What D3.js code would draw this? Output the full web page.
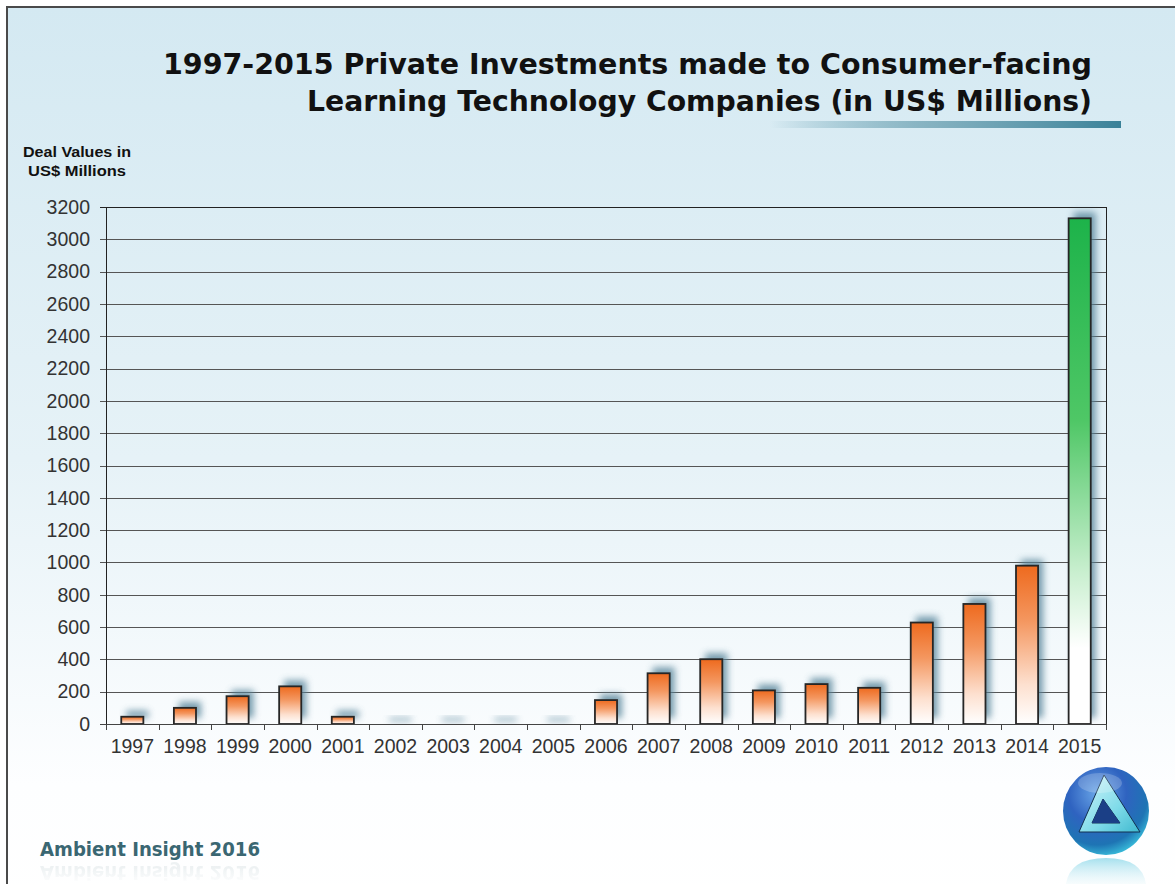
<!DOCTYPE html>
<html>
<head>
<meta charset="utf-8">
<script src="https://cdn.jsdelivr.net/npm/d3@7"></script>
<style>
  html, body { margin: 0; padding: 0; background: #fff; }
  svg { display: block; }
</style>
</head>
<body>
<svg id="chart" width="1175" height="884"></svg>
<script>
// ---- data ----
const years = ["1997","1998","1999","2000","2001","2002","2003","2004","2005","2006",
               "2007","2008","2009","2010","2011","2012","2013","2014","2015"];
const dealValues = [45, 100, 172, 233, 45, 0, 0, 0, 0, 148,
                    314, 401, 208, 247, 224, 628, 743, 980, 3130];
const yTicks = [0,200,400,600,800,1000,1200,1400,1600,1800,2000,2200,2400,2600,2800,3000,3200];
const titleLines = ["1997-2015 Private Investments made to Consumer-facing",
                    "Learning Technology Companies (in US$ Millions)"];
const yAxisTitle = ["Deal Values in", "US$ Millions"];
const footerText = "Ambient Insight  2016";

const svg = d3.select("#chart");
const W = 1175, H = 884;
const defs = svg.append("defs");

// background gradient
const bg = defs.append("linearGradient").attr("id","bgGrad").attr("x1",0).attr("y1",0).attr("x2",0).attr("y2",1);
bg.append("stop").attr("offset","0%").attr("stop-color","#d4e9f2");
bg.append("stop").attr("offset","50%").attr("stop-color","#e6f2f7");
bg.append("stop").attr("offset","86%").attr("stop-color","#fdfeff");
bg.append("stop").attr("offset","100%").attr("stop-color","#ffffff");

svg.append("rect").attr("x",0).attr("y",0).attr("width",W).attr("height",H).attr("fill","#fff");
svg.append("rect").attr("x",7).attr("y",7).attr("width",W+20).attr("height",H+20)
  .attr("fill","url(#bgGrad)").attr("stroke","#4a4a4a").attr("stroke-width",2);

// title
const titleG = svg.append("g").attr("font-family","'DejaVu Sans', Verdana, sans-serif")
  .attr("font-weight","bold").attr("font-size",29).attr("fill","#111");
titleG.append("text").attr("x",1092).attr("y",74).attr("text-anchor","end")
  .attr("textLength",929).attr("lengthAdjust","spacingAndGlyphs").text(titleLines[0]);
titleG.append("text").attr("x",1092).attr("y",111).attr("text-anchor","end")
  .attr("textLength",785).attr("lengthAdjust","spacingAndGlyphs").text(titleLines[1]);

// title underline gradient bar
const tb = defs.append("linearGradient").attr("id","titleBar").attr("x1",0).attr("x2",1).attr("y1",0).attr("y2",0);
tb.append("stop").attr("offset","0%").attr("stop-color","#3b849a").attr("stop-opacity",0);
tb.append("stop").attr("offset","45%").attr("stop-color","#6a9fb0").attr("stop-opacity",0.75);
tb.append("stop").attr("offset","100%").attr("stop-color","#3a8198").attr("stop-opacity",1);
svg.append("rect").attr("x",770).attr("y",121).attr("width",351).attr("height",7).attr("fill","url(#titleBar)");

// y axis title
const yt = svg.append("g").attr("font-family","'Liberation Sans Narrow', 'Liberation Sans', Arial, sans-serif")
  .attr("font-weight","bold").attr("font-size",14).attr("fill","#111").attr("text-anchor","middle");
yt.append("text").attr("x",77).attr("y",157).attr("textLength",108).attr("lengthAdjust","spacingAndGlyphs").text(yAxisTitle[0]);
yt.append("text").attr("x",77).attr("y",176).attr("textLength",98).attr("lengthAdjust","spacingAndGlyphs").text(yAxisTitle[1]);

// plot area
const m = {left:106, top:207, right:1106, bottom:724};
const pw = m.right - m.left, ph = m.bottom - m.top;
const g = svg.append("g").attr("transform",`translate(${m.left},${m.top})`);

const y = d3.scaleLinear().domain([0,3200]).range([ph,0]);
const xOuter = d3.scaleBand().domain(years).range([0,pw]).padding(0);
const x = d3.scaleBand().domain(years).range([0,pw]).paddingInner(0.58).paddingOuter(0.29);

// gridlines
g.append("g").selectAll("line").data(yTicks).join("line")
  .attr("x1",-6).attr("x2",pw).attr("y1",d=>Math.round(y(d))+0.5).attr("y2",d=>Math.round(y(d))+0.5)
  .attr("stroke",d=>d===3200?"#222":"#555").attr("stroke-width",1);

// right frame line
g.append("line").attr("x1",pw+0.5).attr("x2",pw+0.5).attr("y1",0).attr("y2",ph).attr("stroke","#222");

// y axis labels
const yAxis = d3.axisLeft(y).tickValues(yTicks).tickSize(6).tickPadding(10).tickFormat(d3.format("d"));
const yA = g.append("g").call(yAxis);
yA.select(".domain").remove();
yA.selectAll(".tick line").remove();
yA.selectAll("text").attr("font-family","'Liberation Sans', Arial, sans-serif").attr("font-size",19.5).attr("fill","#333");

// shadows
const shadowF = defs.append("filter").attr("id","shadow").attr("x","-100%").attr("y","-100%").attr("width","300%").attr("height","300%");
shadowF.append("feGaussianBlur").attr("stdDeviation",3.6);

g.append("g").selectAll("rect").data(years).join("rect")
  .attr("x",(d,i)=>x(d)+5).attr("y",(d,i)=>y(dealValues[i])-6)
  .attr("width",x.bandwidth()).attr("height",(d,i)=>Math.max(3,ph-y(dealValues[i])))
  .attr("fill","#56849a").attr("opacity",0.8).attr("filter","url(#shadow)");

// bar gradients
const og = defs.append("linearGradient").attr("id","orangeGrad").attr("x1",0).attr("x2",0).attr("y1",0).attr("y2",1);
og.append("stop").attr("offset","0%").attr("stop-color","#ee6a1e");
og.append("stop").attr("offset","35%").attr("stop-color","#f49760");
og.append("stop").attr("offset","75%").attr("stop-color","#fde0cf");
og.append("stop").attr("offset","100%").attr("stop-color","#ffffff");
const gg = defs.append("linearGradient").attr("id","greenGrad").attr("x1",0).attr("x2",0).attr("y1",0).attr("y2",1);
gg.append("stop").attr("offset","0%").attr("stop-color","#1db34a");
gg.append("stop").attr("offset","40%").attr("stop-color","#4fc766");
gg.append("stop").attr("offset","70%").attr("stop-color","#c9efcf");
gg.append("stop").attr("offset","85%").attr("stop-color","#ffffff");
gg.append("stop").attr("offset","100%").attr("stop-color","#ffffff");

g.append("g").selectAll("rect").data(years).join("rect")
  .attr("x",d=>x(d)).attr("y",(d,i)=>y(dealValues[i]))
  .attr("width",x.bandwidth()).attr("height",(d,i)=>ph-y(dealValues[i]))
  .attr("fill",(d,i)=> d==="2015" ? "url(#greenGrad)" : "url(#orangeGrad)")
  .attr("stroke",(d,i)=> dealValues[i]>0 ? "#262626" : "none").attr("stroke-width",1.8);

// y axis line
g.append("line").attr("x1",0.5).attr("x2",0.5).attr("y1",0).attr("y2",ph).attr("stroke","#222");

// x axis
const xAxis = d3.axisBottom(xOuter).tickSize(0).tickPadding(15);
const xA = g.append("g").attr("transform",`translate(0,${ph})`).call(xAxis);
xA.select(".domain").remove();
xA.selectAll("text").attr("font-family","'Liberation Sans', Arial, sans-serif").attr("font-size",19.5).attr("fill","#333");
g.append("line").attr("x1",-6).attr("x2",pw).attr("y1",ph+0.5).attr("y2",ph+0.5).attr("stroke","#444");
const bounds = years.map(d=>xOuter(d)).concat([pw]);
g.append("g").selectAll("line").data(bounds).join("line")
  .attr("x1",d=>Math.round(d)+0.5).attr("x2",d=>Math.round(d)+0.5)
  .attr("y1",ph).attr("y2",ph+6).attr("stroke","#444");

// footer text with faint reflection
const ftG = svg.append("g").attr("font-family","'DejaVu Sans Condensed', 'DejaVu Sans', sans-serif")
  .attr("font-weight","bold").attr("font-size",19);
const fg = defs.append("linearGradient").attr("id","reflGrad").attr("x1",0).attr("x2",0).attr("y1",0).attr("y2",1);
fg.append("stop").attr("offset","0%").attr("stop-color","#3a6772").attr("stop-opacity",0);
fg.append("stop").attr("offset","75%").attr("stop-color","#3a6772").attr("stop-opacity",0.25);
ftG.append("text").attr("x",40).attr("y",856).attr("fill","#3a6772")
  .attr("textLength",220).attr("lengthAdjust","spacingAndGlyphs").text(footerText);
ftG.append("text").attr("x",40).attr("y",-866).attr("transform","scale(1,-1)")
  .attr("fill","url(#reflGrad)").attr("opacity",0.35)
  .attr("textLength",220).attr("lengthAdjust","spacingAndGlyphs").text(footerText);

// logo
const lg = defs.append("radialGradient").attr("id","logoGrad").attr("cx","40%").attr("cy","30%").attr("r","75%");
lg.append("stop").attr("offset","0%").attr("stop-color","#6aa6e8");
lg.append("stop").attr("offset","45%").attr("stop-color","#2f63c0");
lg.append("stop").attr("offset","78%").attr("stop-color","#1e74b4");
lg.append("stop").attr("offset","100%").attr("stop-color","#3cc6df");
const tg = defs.append("linearGradient").attr("id","triGrad").attr("x1",0).attr("x2",1).attr("y1",0).attr("y2",1);
tg.append("stop").attr("offset","0%").attr("stop-color","#d8f6fb");
tg.append("stop").attr("offset","60%").attr("stop-color","#7fdbe9");
tg.append("stop").attr("offset","100%").attr("stop-color","#3fb9cf");
const logo = svg.append("g").attr("transform","translate(1106,811)");
logo.append("ellipse").attr("rx",43).attr("ry",44).attr("fill","url(#logoGrad)");
logo.append("path").attr("d","M-2,-36 L34,21 L-27,21 Z M-3,-12 L-14,12 L14,12 Z")
  .attr("fill","url(#triGrad)").attr("fill-rule","evenodd").attr("stroke","#123050").attr("stroke-width",1);
logo.append("path").attr("d","M-3,-12 L-14,12 L14,12 Z").attr("fill","#1b3f86");
logo.append("ellipse").attr("cx",-6).attr("cy",-28).attr("rx",22).attr("ry",10).attr("fill","#ffffff").attr("opacity",0.2);
// reflection
const rg = defs.append("linearGradient").attr("id","logoRefl").attr("x1",0).attr("x2",0).attr("y1",0).attr("y2",1);
rg.append("stop").attr("offset","0%").attr("stop-color","#7fd3e6").attr("stop-opacity",0.7);
rg.append("stop").attr("offset","100%").attr("stop-color","#d6f0f6").attr("stop-opacity",0.2);
svg.append("path").attr("d","M1066,884 Q1070,858 1106,858 Q1142,858 1146,884 Z").attr("fill","url(#logoRefl)");
</script>
</body>
</html>
